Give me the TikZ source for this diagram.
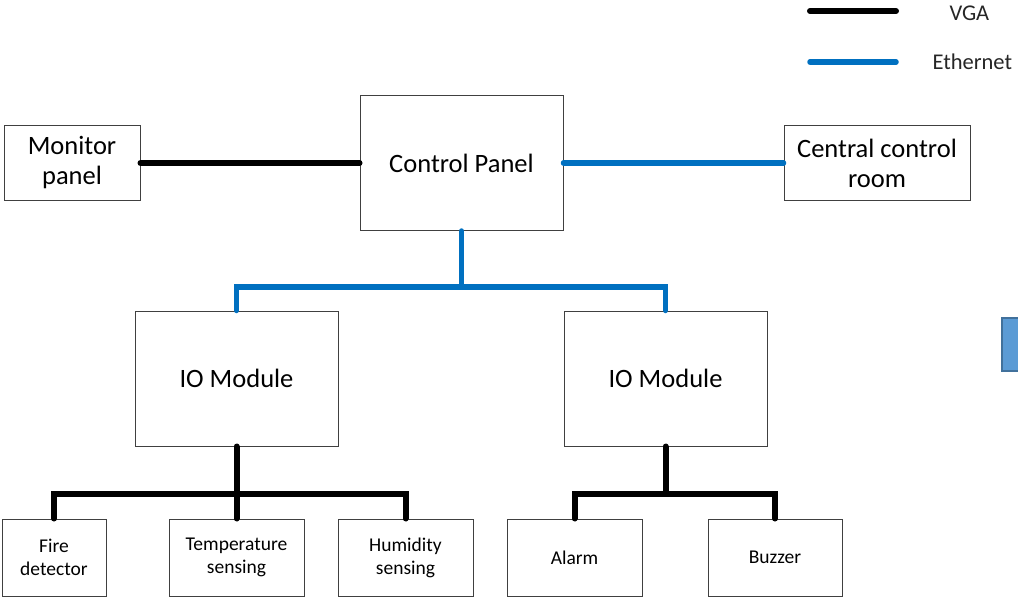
\documentclass[tikz,border=0pt]{standalone}
\usepackage{fontspec}
\setmainfont{Carlito}
\definecolor{ethblue}{HTML}{0070C0}
\definecolor{boxline}{HTML}{404040}
\definecolor{sqfill}{HTML}{5B9BD5}
\definecolor{sqline}{HTML}{41719C}
\begin{document}
\begin{tikzpicture}[x=1pt,y=-1pt,
  box/.style={draw=boxline,line width=1pt,rectangle,inner sep=0pt,align=center},
  bigtxt/.style={font=\fontsize{26.5}{30}\selectfont},
  smalltxt/.style={font=\fontsize{19.5}{23}\selectfont},
  vga/.style={line width=6pt,black,line cap=round},
  eth/.style={line width=5.5pt,ethblue,line cap=round},
  legtxt/.style={font=\fontsize{22.5}{26}\selectfont,anchor=west,text=black!85}]
\useasboundingbox (0,0) rectangle (1018,599);
% boxes
\node[box,bigtxt,minimum width=136pt,minimum height=75pt] (mon) at (72,163) {Monitor\\panel};
\node[box,bigtxt,minimum width=203pt,minimum height=135pt] (cp) at (461.5,163) {Control Panel};
\node[box,bigtxt,minimum width=186pt,minimum height=75pt] (ccr) at (877,163) {Central control\\room};
\node[box,bigtxt,minimum width=203pt,minimum height=135pt] (io1) at (236.5,378.5) {IO Module};
\node[box,bigtxt,minimum width=203pt,minimum height=135pt] (io2) at (665.5,378.5) {IO Module};
\node[box,smalltxt,minimum width=104pt,minimum height=77pt] (fire) at (54,557.5) {Fire\\detector};
\node[box,smalltxt,minimum width=135pt,minimum height=77pt] (temp) at (236.5,557.5) {Temperature\\sensing};
\node[box,smalltxt,minimum width=135pt,minimum height=77pt] (hum) at (405.5,557.5) {Humidity\\sensing};
\node[box,smalltxt,minimum width=135pt,minimum height=77pt] (alarm) at (574.5,557.5) {Alarm};
\node[box,smalltxt,minimum width=134pt,minimum height=77pt] (buzz) at (775,557.5) {Buzzer};
% connectors
\draw[vga] (mon.east) -- (cp.west);
\draw[eth] (ccr.west) -- (cp.east);
\coordinate (cpj) at ([yshift=-56pt]cp.south);
\draw[eth] (cp.south) -- (cpj) -| (io1.north);
\draw[eth] (cpj) -| (io2.north);
\coordinate (ioj1) at ([yshift=-47pt]io1.south);
\draw[vga] (io1.south) -- (temp.north);
\draw[vga] (ioj1) -| (fire.north);
\draw[vga] (ioj1) -| (hum.north);
\coordinate (ioj2) at ([yshift=-47pt]io2.south);
\draw[vga] (io2.south) -- (ioj2);
\draw[vga] (ioj2) -| (alarm.north);
\draw[vga] (ioj2) -| (buzz.north);
% legend
\coordinate (la) at (810,11);
\coordinate (lb) at (896,11);
\coordinate (lc) at (810,62);
\coordinate (ld) at (896,62);
\draw[vga] (la) -- (lb);
\draw[eth] (lc) -- (ld);
\node[legtxt] (lvga) at (946,13) {VGA};
\node[legtxt] (leth) at (929,62) {Ethernet};
% partial square at right edge
\draw[sqline,fill=sqfill,line width=2pt] (1002,318) rectangle (1030,371);
\end{tikzpicture}
\end{document}
